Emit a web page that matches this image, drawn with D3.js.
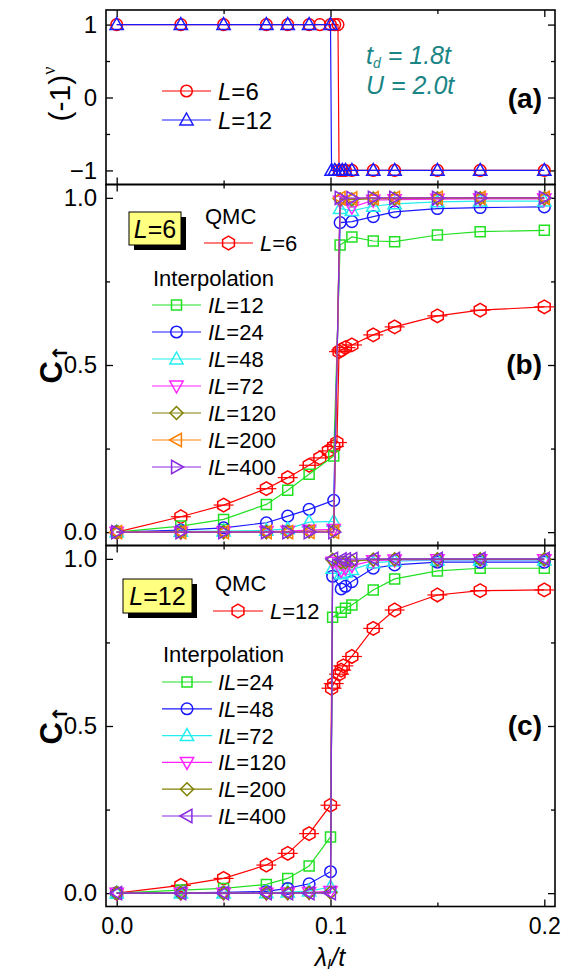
<!DOCTYPE html>
<html>
<head>
<meta charset="utf-8">
<script src="https://cdn.jsdelivr.net/npm/d3@7"></script>
<style>
body { margin: 0; background: #fff; }
text { font-family: "Liberation Sans", Arial, sans-serif; }
</style>
</head>
<body>
<div id="chart"></div>
<script>
// ---- data ----
const xMajor = [0, 0.1, 0.2];
const xMinor = [0.05, 0.15];

// panel (a): sign (-1)^nu
const aL6x = [0, 0.03, 0.05, 0.07, 0.08, 0.09, 0.095, 0.1, 0.102, 0.1035, 0.104, 0.1055, 0.107, 0.11, 0.12, 0.13, 0.15, 0.17, 0.2];
const aL6y = [1, 1, 1, 1, 1, 1, 1, 1, 1, 1, -1, -1, -1, -1, -1, -1, -1, -1, -1];
const aL12x = [0, 0.03, 0.05, 0.07, 0.08, 0.09, 0.1, 0.1005, 0.102, 0.104, 0.1055, 0.107, 0.11, 0.12, 0.13, 0.15, 0.17, 0.2];
const aL12y = [1, 1, 1, 1, 1, 1, 1, -1, -1, -1, -1, -1, -1, -1, -1, -1, -1, -1];

// panel (b): L=6
const bQmcX = [0, 0.03, 0.05, 0.07, 0.08, 0.09, 0.095, 0.099, 0.1015, 0.103, 0.104, 0.105, 0.107, 0.11, 0.12, 0.13, 0.15, 0.17, 0.2];
const bQmcY = [0, 0.046, 0.081, 0.13, 0.163, 0.2, 0.222, 0.243, 0.256, 0.268, 0.54, 0.545, 0.552, 0.56, 0.59, 0.614, 0.647, 0.664, 0.674];
const bIntX = [0, 0.03, 0.05, 0.07, 0.08, 0.09, 0.1015, 0.1045, 0.11, 0.12, 0.13, 0.15, 0.17, 0.2];
const bIL12 = [0, 0.018, 0.038, 0.083, 0.125, 0.173, 0.228, 0.859, 0.883, 0.871, 0.869, 0.889, 0.899, 0.903];
const bIL24 = [0, 0.006, 0.013, 0.028, 0.048, 0.068, 0.095, 0.926, 0.929, 0.944, 0.958, 0.968, 0.971, 0.973];
const bIL48 = [0, 0.002, 0.003, 0.005, 0.01, 0.03, 0.032, 0.968, 0.962, 0.975, 0.982, 0.988, 0.99, 0.99];
const bIL72 = [0, 0, 0.001, 0.002, 0.003, 0.006, 0.008, 0.99, 0.972, 0.993, 0.995, 0.996, 0.997, 0.997];
const bIL120 = [0, 0, 0, 0, 0.001, 0.002, 0.003, 0.996, 0.995, 0.998, 0.998, 0.999, 0.999, 0.999];
const bIL200 = [0, 0, 0, 0, 0, 0.001, 0.001, 0.999, 0.998, 0.999, 1, 1, 1, 1];
const bIL400 = [0, 0, 0, 0, 0, 0, 0, 1, 0.999, 1, 1, 1, 1, 1];

// panel (c): L=12
const cQmcX = [0, 0.03, 0.05, 0.07, 0.08, 0.09, 0.1, 0.1005, 0.1015, 0.104, 0.105, 0.106, 0.11, 0.12, 0.13, 0.15, 0.17, 0.2];
const cQmcY = [0, 0.023, 0.044, 0.084, 0.119, 0.178, 0.263, 0.613, 0.627, 0.655, 0.667, 0.68, 0.708, 0.792, 0.847, 0.892, 0.905, 0.907];
const cIntX = [0, 0.03, 0.05, 0.07, 0.08, 0.09, 0.1, 0.101, 0.105, 0.107, 0.11, 0.12, 0.13, 0.15, 0.17, 0.2];
const cIL24 = [0, 0.009, 0.014, 0.026, 0.044, 0.081, 0.168, 0.825, 0.84, 0.852, 0.862, 0.907, 0.94, 0.964, 0.972, 0.972];
const cIL48 = [0, 0.001, 0.002, 0.005, 0.014, 0.028, 0.064, 0.948, 0.91, 0.918, 0.932, 0.972, 0.982, 0.99, 0.99, 0.99];
const cIL72 = [0, 0, 0, 0.001, 0.003, 0.006, 0.018, 0.972, 0.955, 0.96, 0.968, 0.988, 0.993, 0.996, 0.996, 0.996];
const cIL120 = [0, 0, 0, 0, 0.001, 0.002, 0.005, 0.99, 0.965, 0.972, 0.98, 0.995, 0.997, 0.998, 0.998, 0.998];
const cIL200 = [0, 0, 0, 0, 0, 0.001, 0.002, 0.997, 0.99, 0.99, 0.993, 0.998, 0.999, 0.999, 0.999, 0.999];
const cIL400 = [0, 0, 0, 0, 0, 0, 0, 1, 0.998, 0.998, 0.999, 1, 1, 1, 1, 1];

// ---- layout ----
const width = 570, height = 973;
const left = 106, right = 555;

const svg = d3.select("#chart").append("svg")
    .attr("width", width)
    .attr("height", height);

const x = d3.scaleLinear().domain([-0.005, 0.205]).range([left, right]);
const ya = d3.scaleLinear().domain([-1.2, 1.2]).range([185, 10]);
const yb = d3.scaleLinear().domain([-0.04, 1.04]).range([545.5, 184.5]);
const yc = d3.scaleLinear().domain([-0.04, 1.04]).range([906.5, 545.5]);

// marker shapes, centred on 0,0
const shapes = {
    circle: r => { const p = d3.path(); p.arc(0, 0, r, 0, 2 * Math.PI); return p.toString(); },
    square: r => `M${-r},${-r}H${r}V${r}H${-r}Z`,
    diamond: r => `M0,${-r}L${r},0L0,${r}L${-r},0Z`,
    up: r => `M0,${-r}L${r * 0.95},${r * 0.7}L${-r * 0.95},${r * 0.7}Z`,
    down: r => `M0,${r}L${r * 0.95},${-r * 0.7}L${-r * 0.95},${-r * 0.7}Z`,
    leftT: r => `M${-r},0L${r * 0.7},${-r * 0.95}L${r * 0.7},${r * 0.95}Z`,
    rightT: r => `M${r},0L${-r * 0.7},${-r * 0.95}L${-r * 0.7},${r * 0.95}Z`,
    hex: r => d3.range(6).map(i => {
        const a = -Math.PI / 2 + i * Math.PI / 3;
        return (i ? "L" : "M") + (r * Math.cos(a)).toFixed(2) + "," + (r * Math.sin(a)).toFixed(2);
    }).join("") + "Z"
};
const sizes = { circle: 5.8, square: 5, diamond: 6.5, up: 7, down: 7, leftT: 7, rightT: 7, hex: 6.8 };

function series(y, xs, ys, color, shape, err) {
    const pts = xs.map((v, i) => [v, ys[i]]);
    const g = svg.append("g");
    g.append("path").datum(pts)
        .attr("fill", "none")
        .attr("stroke", color)
        .attr("stroke-width", 1.2)
        .attr("d", d3.line().x(d => x(d[0])).y(d => y(d[1])));
    if (err) {
        g.selectAll(null).data(pts.slice(1)).join("line")
            .attr("x1", d => x(d[0]) - 10).attr("x2", d => x(d[0]) + 10)
            .attr("y1", d => y(d[1])).attr("y2", d => y(d[1]))
            .attr("stroke", color).attr("stroke-width", 1.2);
    }
    g.selectAll(null).data(pts).join("path")
        .attr("transform", d => `translate(${x(d[0])},${y(d[1])})`)
        .attr("d", shapes[shape](sizes[shape]))
        .attr("fill", "none")
        .attr("stroke", color)
        .attr("stroke-width", 1.5);
}

// frame with inward ticks on all four sides
function frame(y, top, bot, yMaj, yMin, fmt, labelX) {
    const tick = (axis, tx, ty) => {
        const g = svg.append("g").attr("transform", `translate(${tx},${ty})`).call(axis);
        g.select(".domain").remove();
        g.selectAll("line").attr("stroke", "#000").attr("stroke-width", 1.3);
        return g;
    };
    const yl = tick(d3.axisLeft(y).tickValues(yMaj).tickSize(-7).tickPadding(9).tickFormat(fmt), left, 0);
    yl.selectAll("text").attr("font-size", 24).attr("fill", "#000");
    tick(d3.axisLeft(y).tickValues(yMin).tickSize(-4).tickFormat(""), left, 0);
    tick(d3.axisRight(y).tickValues(yMaj).tickSize(-7).tickFormat(""), right, 0);
    tick(d3.axisRight(y).tickValues(yMin).tickSize(-4).tickFormat(""), right, 0);
    tick(d3.axisTop(x).tickValues(xMajor).tickSize(-7).tickFormat(""), 0, top);
    tick(d3.axisTop(x).tickValues(xMinor).tickSize(-4).tickFormat(""), 0, top);
    const xb = tick(d3.axisBottom(x).tickValues(xMajor).tickSize(-7).tickPadding(11)
        .tickFormat(labelX ? d3.format(".1f") : ""), 0, bot);
    xb.selectAll("text").attr("font-size", 23).attr("fill", "#000");
    tick(d3.axisBottom(x).tickValues(xMinor).tickSize(-4).tickFormat(""), 0, bot);
    svg.append("rect")
        .attr("x", left).attr("y", top)
        .attr("width", right - left).attr("height", bot - top)
        .attr("fill", "none").attr("stroke", "#000").attr("stroke-width", 1.6);
}

function legendRow(x1, x2, yy, color, shape, italic, rest, tx, fs) {
    svg.append("line").attr("x1", x1).attr("x2", x2).attr("y1", yy).attr("y2", yy)
        .attr("stroke", color).attr("stroke-width", 1.2);
    svg.append("path").attr("transform", `translate(${(x1 + x2) / 2},${yy})`)
        .attr("d", shapes[shape](sizes[shape]))
        .attr("fill", "none").attr("stroke", color).attr("stroke-width", 1.5);
    const t = svg.append("text").attr("x", tx).attr("y", yy).attr("dy", "0.36em").attr("font-size", fs || 22);
    t.append("tspan").attr("font-style", "italic").text(italic);
    t.append("tspan").text(rest);
}

function tag(bx, by, bw, bh, label) {
    svg.append("rect").attr("x", bx + 5).attr("y", by + 5).attr("width", bw).attr("height", bh).attr("fill", "#000");
    svg.append("rect").attr("x", bx).attr("y", by).attr("width", bw).attr("height", bh)
        .attr("fill", "#ffff80").attr("stroke", "#000").attr("stroke-width", 1);
    const t = svg.append("text").attr("x", bx + bw / 2).attr("y", by + bh / 2).attr("dy", "0.36em")
        .attr("text-anchor", "middle").attr("font-size", 25);
    t.append("tspan").attr("font-style", "italic").text("L");
    t.append("tspan").text(label);
}

const red = "#ff0000", green = "#22e022", blue = "#1a1aff", cyan = "#22eeee",
    magenta = "#ff22ff", olive = "#808000", orange = "#ff8000", purple = "#8a2be2";

// ---- panel (a) ----
frame(ya, 10, 184.5, [-1, 0, 1], [-0.5, 0.5], d3.format("d"), false);
series(ya, aL6x, aL6y, red, "circle");
series(ya, aL12x, aL12y, blue, "up");
legendRow(162, 211, 91, red, "circle", "L", "=6", 218, 24);
legendRow(162, 211, 120, blue, "up", "L", "=12", 218, 24);

const td = svg.append("text").attr("x", 366).attr("y", 64)
    .attr("font-family", "Liberation Serif").attr("font-style", "italic").attr("font-size", 25).attr("fill", "#1a8585");
td.append("tspan").text("t");
td.append("tspan").attr("font-size", 14).attr("dy", 4).text("d");
td.append("tspan").attr("dy", -4).text(" = 1.8t");
svg.append("text").attr("x", 366).attr("y", 94)
    .attr("font-family", "Liberation Serif").attr("font-style", "italic").attr("font-size", 25).attr("fill", "#1a8585")
    .text("U = 2.0t");

// ---- panel (b) ----
frame(yb, 184.5, 545.5, [0, 0.5, 1], [0.25, 0.75], d3.format(".1f"), false);
const bSeries = [
    [bIL12, green, "square", "12"], [bIL24, blue, "circle", "24"], [bIL48, cyan, "up", "48"],
    [bIL72, magenta, "down", "72"], [bIL120, olive, "diamond", "120"], [bIL200, orange, "leftT", "200"],
    [bIL400, purple, "rightT", "400"]
];
series(yb, bQmcX, bQmcY, red, "hex", true);
bSeries.forEach(s => series(yb, bIntX, s[0], s[1], s[2]));

tag(129, 212, 52, 33, "=6");
svg.append("text").attr("x", 205).attr("y", 216).attr("dy", "0.36em").attr("font-size", 22).text("QMC");
legendRow(204, 253, 243, red, "hex", "L", "=6", 260);
svg.append("text").attr("x", 153).attr("y", 278).attr("dy", "0.36em").attr("font-size", 22).text("Interpolation");
bSeries.forEach((s, i) => legendRow(152, 201, 305 + i * 27, s[1], s[2], "IL", "=" + s[3], 208));

// ---- panel (c) ----
frame(yc, 545.5, 906.5, [0, 0.5, 1], [0.25, 0.75], d3.format(".1f"), true);
const cSeries = [
    [cIL24, green, "square", "24"], [cIL48, blue, "circle", "48"], [cIL72, cyan, "up", "72"],
    [cIL120, magenta, "down", "120"], [cIL200, olive, "diamond", "200"], [cIL400, purple, "leftT", "400"]
];
series(yc, cQmcX, cQmcY, red, "hex", true);
cSeries.forEach(s => series(yc, cIntX, s[0], s[1], s[2]));

tag(123, 579, 69, 34, "=12");
svg.append("text").attr("x", 215).attr("y", 583).attr("dy", "0.36em").attr("font-size", 22).text("QMC");
legendRow(213, 263, 611, red, "hex", "L", "=12", 270);
svg.append("text").attr("x", 163).attr("y", 654).attr("dy", "0.36em").attr("font-size", 22).text("Interpolation");
cSeries.forEach((s, i) => legendRow(162, 212, 682 + i * 26.8, s[1], s[2], "IL", "=" + s[3], 218));

// ---- panel letters ----
[["(a)", 98], ["(b)", 364], ["(c)", 725]].forEach(d => {
    svg.append("text").attr("x", 542).attr("y", d[1]).attr("dy", "0.36em")
        .attr("text-anchor", "end").attr("font-size", 28).attr("font-weight", "bold").text(d[0]);
});

// ---- axis titles ----
const ta = svg.append("text").attr("transform", "translate(70,94) rotate(-90)")
    .attr("text-anchor", "middle").attr("font-size", 30);
ta.append("tspan").text("(-1)");
ta.append("tspan").attr("font-family", "Liberation Serif").attr("font-size", 18).attr("dy", -15).text("ν");

[[364], [725]].forEach(d => {
    const t = svg.append("text").attr("transform", `translate(62,${d[0]}) rotate(-90)`)
        .attr("text-anchor", "middle").attr("font-size", 31).attr("font-weight", "bold");
    t.append("tspan").text("C");
    t.append("tspan").attr("font-family", "DejaVu Sans").attr("font-size", 20).attr("dy", 5).text("↑");
});

const xt = svg.append("text").attr("x", 330).attr("y", 966).attr("text-anchor", "middle")
    .attr("font-family", "Liberation Serif").attr("font-style", "italic").attr("font-size", 25);
xt.append("tspan").text("λ");
xt.append("tspan").attr("font-size", 15).attr("dy", 3).text("I");
xt.append("tspan").attr("dy", -3).text("/t");
</script>
</body>
</html>
